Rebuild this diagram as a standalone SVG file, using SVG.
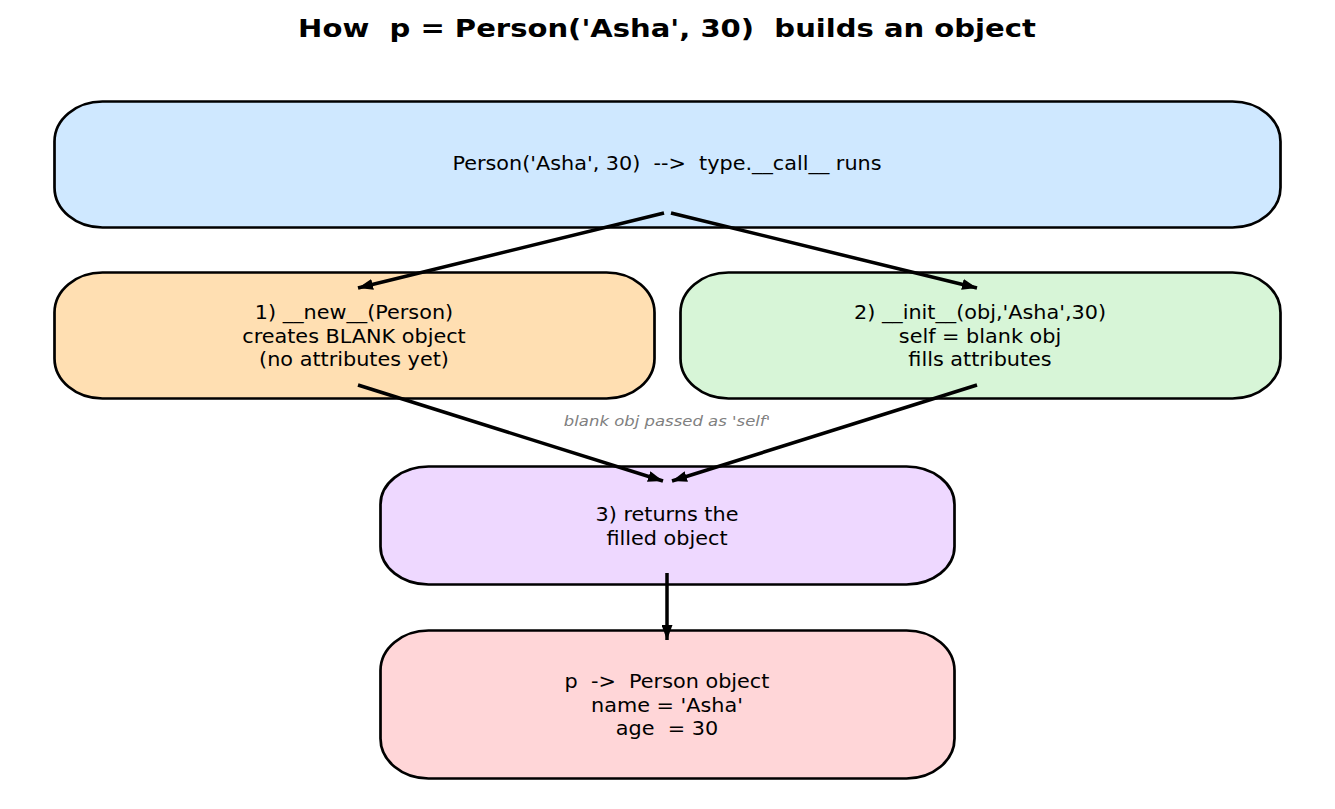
<svg xmlns="http://www.w3.org/2000/svg" width="1335" height="809" viewBox="0 0 1335 809">
<style>
  .box { stroke: #000; stroke-width: 2.7; }
  text { white-space: pre; }
  .t { font-family: "DejaVu Sans", "Liberation Sans", sans-serif; font-size: 18.8px; fill: #000; text-anchor: middle; }
  .title { font-family: "DejaVu Sans", "Liberation Sans", sans-serif; font-size: 25.5px; font-weight: bold; fill: #000; text-anchor: middle; }
  .lbl { font-family: "DejaVu Sans", "Liberation Sans", sans-serif; font-size: 14.6px; font-style: italic; fill: #808080; text-anchor: middle; }
  .edge { stroke: #000; stroke-width: 3.5; fill: none; marker-end: url(#ah); }
</style>
<defs>
  <marker id="ah" markerUnits="userSpaceOnUse" viewBox="0 0 15 11" refX="15" refY="5.5" markerWidth="15" markerHeight="11" orient="auto">
    <path d="M0,0 L15,5.5 L0,11 z" fill="#000"/>
  </marker>
</defs>
<rect width="1335" height="809" fill="#fff"/>
<g id="title">
  <text class="title" xml:space="preserve" transform="translate(667,37) scale(1.14,1)">How  p = Person('Asha', 30)  builds an object</text>
</g>
<g id="node-call">
  <rect class="box" x="54.5" y="101.5" width="1226" height="126" rx="48" ry="40" fill="#cfe8ff"/>
  <text class="t" xml:space="preserve" transform="translate(667,170) scale(1.105,1)">Person('Asha', 30)  -->  type.__call__ runs</text>
</g>
<g id="node-new">
  <rect class="box" x="54.5" y="272.5" width="600" height="126" rx="48" ry="40" fill="#ffdfb2"/>
  <text class="t" transform="translate(354,319) scale(1.105,1)">1) __new__(Person)</text>
  <text class="t" transform="translate(354,342.5) scale(1.105,1)">creates BLANK object</text>
  <text class="t" transform="translate(354,366) scale(1.105,1)">(no attributes yet)</text>
</g>
<g id="node-init">
  <rect class="box" x="680.5" y="272.5" width="600" height="126" rx="48" ry="40" fill="#d7f5d7"/>
  <text class="t" transform="translate(980,319) scale(1.105,1)">2) __init__(obj,'Asha',30)</text>
  <text class="t" transform="translate(980,342.5) scale(1.105,1)">self = blank obj</text>
  <text class="t" transform="translate(980,366) scale(1.105,1)">fills attributes</text>
</g>
<g id="node-return">
  <rect class="box" x="380.5" y="466.5" width="574" height="118" rx="48" ry="38" fill="#eed8ff"/>
  <text class="t" transform="translate(667,521) scale(1.105,1)">3) returns the</text>
  <text class="t" transform="translate(667,544.5) scale(1.105,1)">filled object</text>
</g>
<g id="node-result">
  <rect class="box" x="380.5" y="630.5" width="574" height="148" rx="48" ry="40" fill="#ffd6d8"/>
  <text class="t" xml:space="preserve" transform="translate(667,688) scale(1.105,1)">p  -&gt;  Person object</text>
  <text class="t" xml:space="preserve" transform="translate(667,711.5) scale(1.105,1)">name = 'Asha'</text>
  <text class="t" xml:space="preserve" transform="translate(667,735) scale(1.105,1)">age  = 30</text>
</g>
<g id="connectors">
  <line class="edge" x1="664" y1="213" x2="358" y2="288"/>
  <line class="edge" x1="671" y1="213" x2="977" y2="288"/>
  <line class="edge" x1="358" y1="385" x2="663" y2="481"/>
  <line class="edge" x1="977" y1="385" x2="672" y2="481"/>
  <line class="edge" x1="667" y1="573" x2="667" y2="640"/>
  <text class="lbl" transform="translate(667,426) scale(1.13,1)">blank obj passed as 'self'</text>
</g>
</svg>
